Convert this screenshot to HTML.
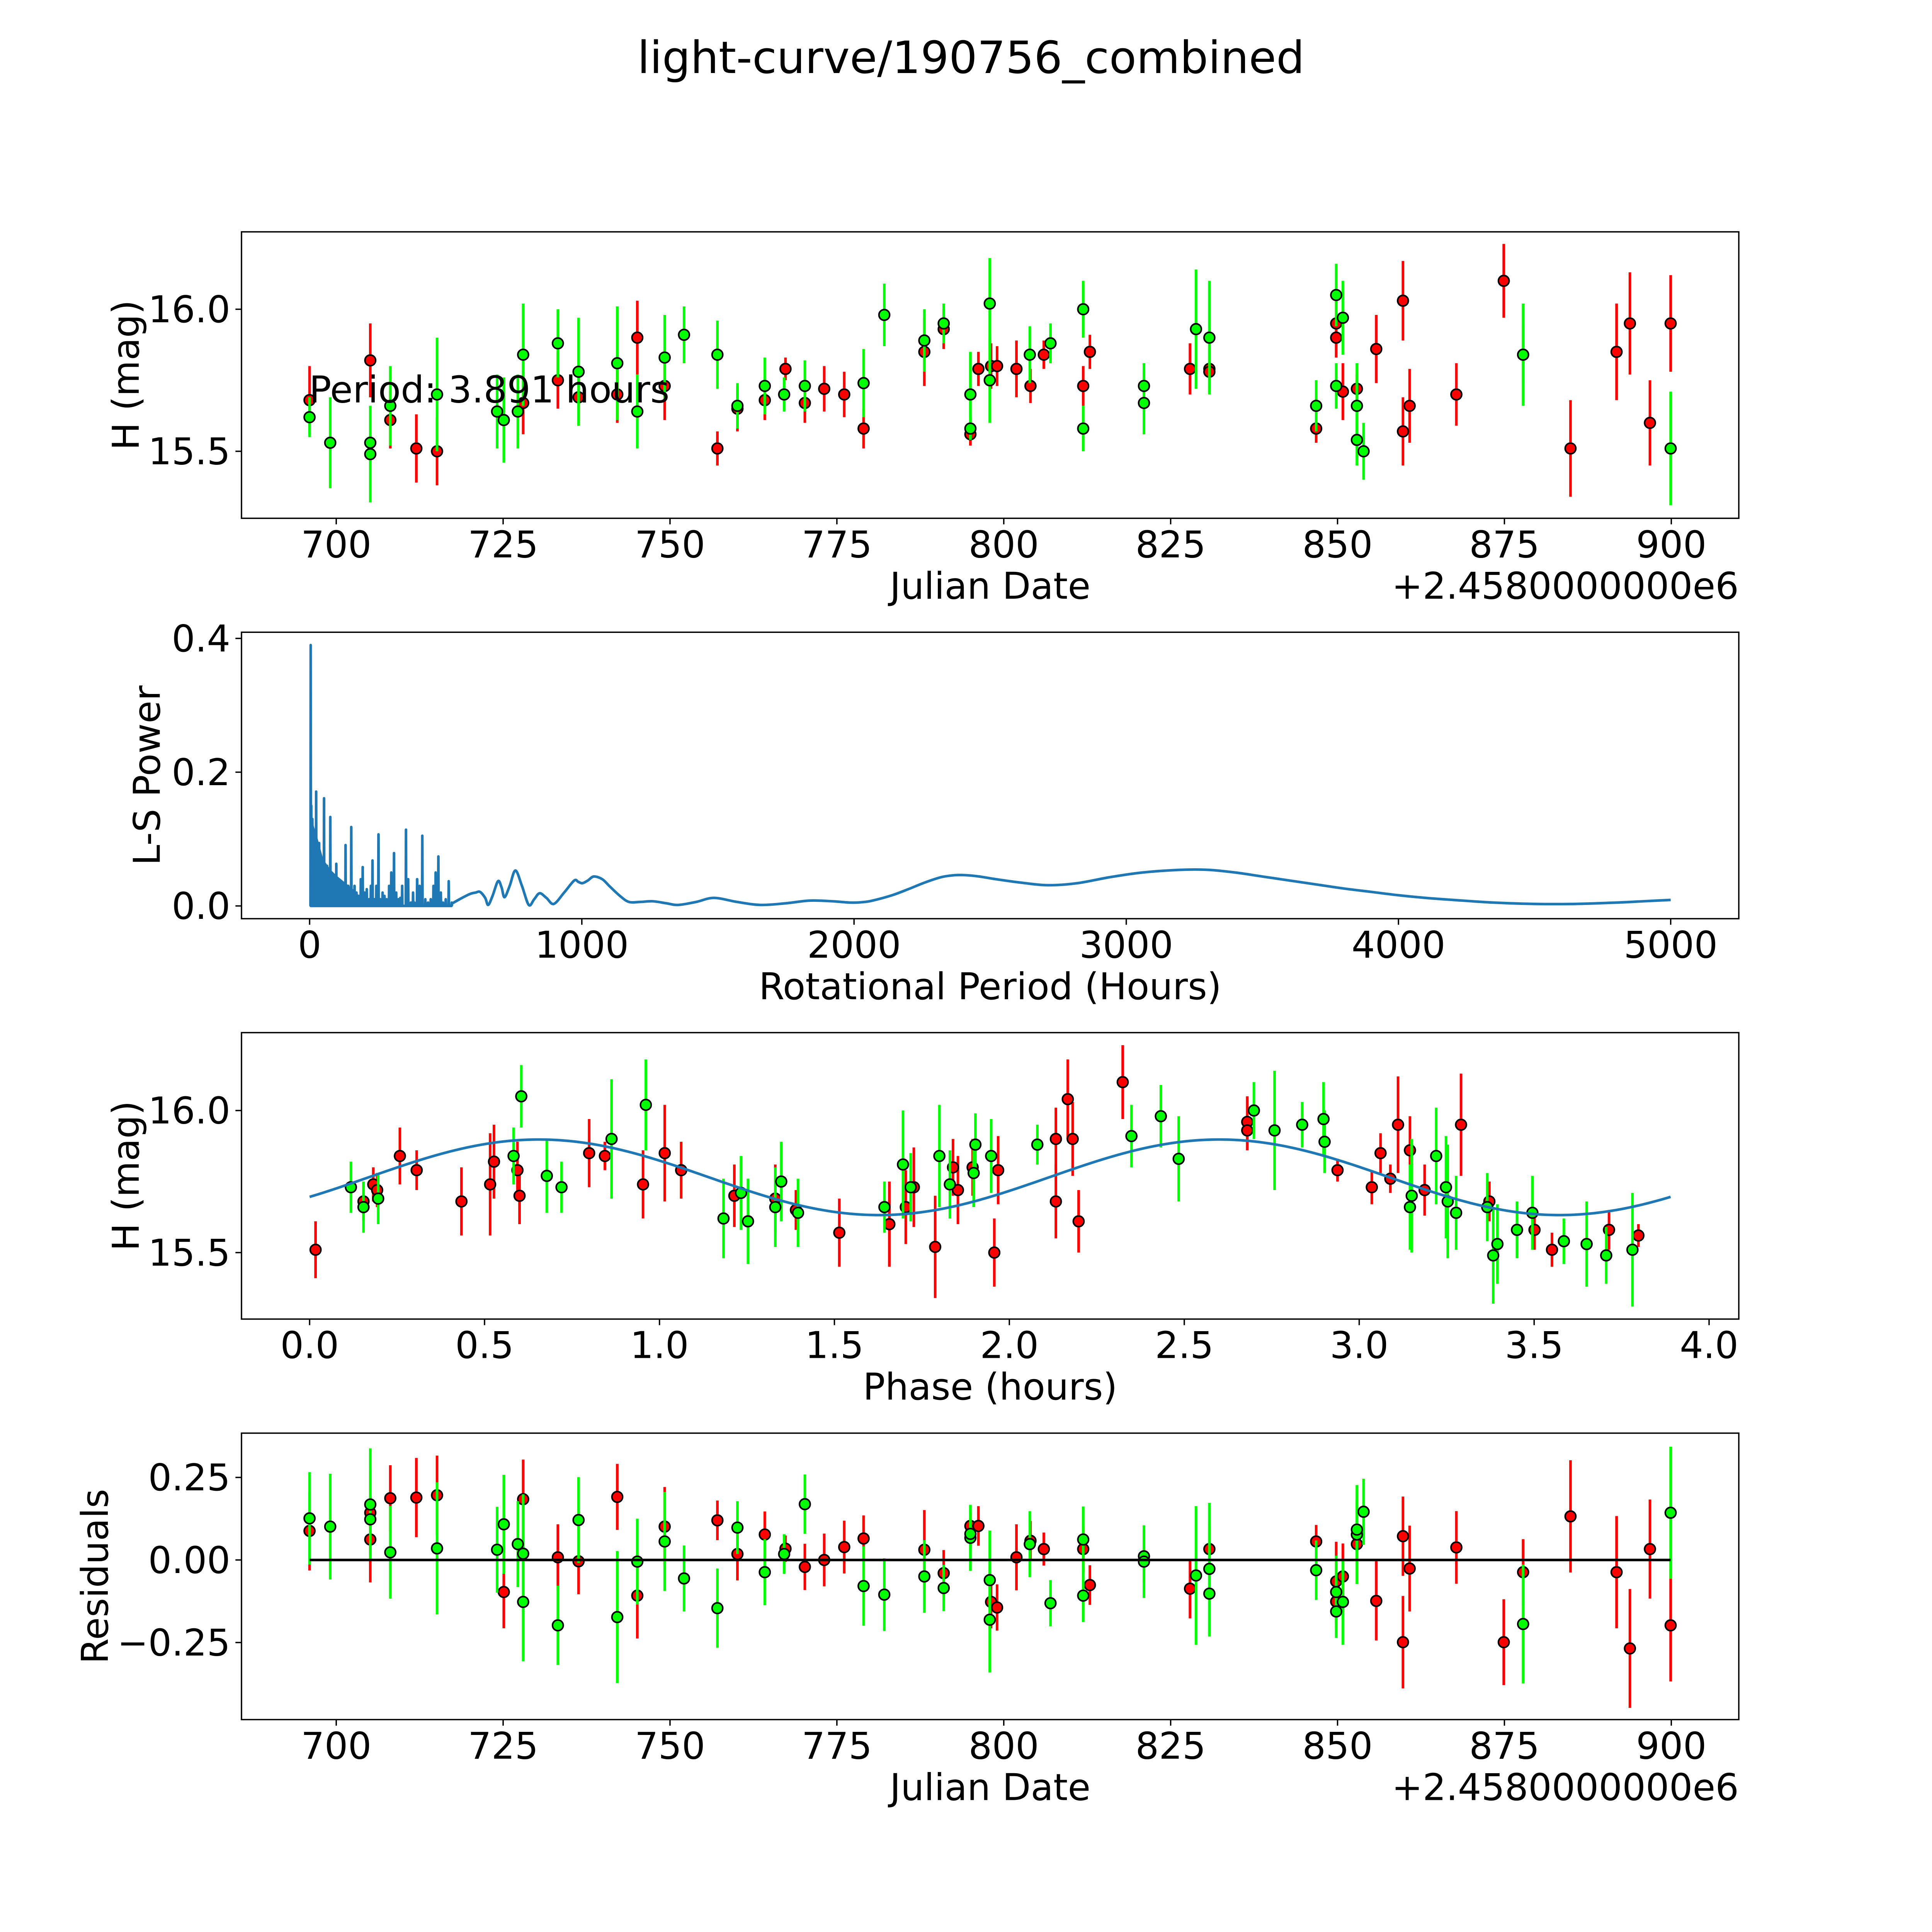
<!DOCTYPE html>
<html><head><meta charset="utf-8"><style>
html,body{margin:0;padding:0;background:#fff;overflow:hidden;width:100vw;height:100vh}
svg{display:block;width:100vw;height:100vh}
text{font-family:"DejaVu Sans","Liberation Sans",sans-serif;fill:#000}
</style></head><body>
<svg id="fig" xmlns="http://www.w3.org/2000/svg" viewBox="0 0 1560 1560" preserveAspectRatio="xMidYMid meet">
<rect x="0" y="0" width="1560" height="1560" fill="#fff"/>
<text x="784" y="59" text-anchor="middle" font-size="36">light-curve/190756_combined</text>
<g id="g1"></g>
<g id="g2"></g>
<g id="g3"></g>
<g id="g4"></g>
</svg>
<script>
// ---- data: light curve [JD-2458000, H mag, err] ----
const redMag = [[696.0,15.68,0.12],[705.1,15.82,0.13],[708.1,15.61,0.1],[712.0,15.51,0.12],[715.1,15.50,0.12],[728.0,15.67,0.11],[733.2,15.75,0.1],[736.3,15.69,0.1],[742.1,15.70,0.1],[745.1,15.90,0.13],[749.2,15.73,0.12],[757.1,15.51,0.06],[760.1,15.65,0.08],[764.2,15.68,0.07],[767.3,15.79,0.04],[770.2,15.67,0.07],[773.1,15.72,0.08],[776.1,15.70,0.08],[779.0,15.58,0.07],[788.1,15.85,0.12],[791.0,15.93,0.07],[795.0,15.56,0.04],[796.2,15.79,0.06],[798.1,15.80,0.08],[799.0,15.80,0.07],[801.9,15.79,0.1],[804.0,15.73,0.06],[806.0,15.84,0.05],[811.9,15.73,0.07],[812.9,15.85,0.06],[827.9,15.79,0.09],[830.8,15.79,0.07],[830.8,15.78,0.07],[846.8,15.58,0.05],[849.8,15.95,0.12],[849.8,15.90,0.07],[850.8,15.71,0.1],[852.9,15.72,0.05],[855.8,15.86,0.12],[859.8,15.57,0.12],[859.8,16.03,0.14],[860.8,15.66,0.13],[867.8,15.70,0.11],[874.9,16.10,0.13],[877.8,15.84,0.1],[884.9,15.51,0.17],[891.8,15.85,0.17],[893.8,15.95,0.18],[896.8,15.60,0.15],[899.9,15.95,0.17]];
const greenMag = [[696.0,15.62,0.07],[699.1,15.53,0.16],[705.1,15.53,0.03],[705.1,15.49,0.17],[708.1,15.66,0.14],[715.1,15.70,0.2],[724.1,15.64,0.13],[725.1,15.61,0.15],[727.2,15.64,0.13],[728.0,15.84,0.18],[733.2,15.88,0.12],[736.3,15.78,0.19],[742.1,15.81,0.2],[745.1,15.64,0.13],[749.2,15.83,0.15],[752.1,15.91,0.1],[757.1,15.84,0.12],[760.1,15.66,0.08],[764.2,15.73,0.1],[767.1,15.70,0.06],[770.2,15.73,0.09],[779.0,15.74,0.12],[782.1,15.98,0.11],[788.1,15.89,0.11],[791.0,15.95,0.07],[795.0,15.70,0.15],[795.0,15.58,0.04],[797.9,15.75,0.15],[797.9,16.02,0.16],[803.9,15.84,0.1],[807.0,15.88,0.07],[811.9,16.00,0.1],[811.9,15.58,0.08],[821.0,15.73,0.08],[821.0,15.67,0.11],[828.8,15.93,0.21],[830.8,15.90,0.2],[846.8,15.66,0.09],[849.8,16.05,0.11],[849.8,15.73,0.08],[850.8,15.97,0.13],[852.9,15.66,0.15],[852.9,15.54,0.09],[853.9,15.50,0.1],[877.8,15.84,0.18],[899.9,15.51,0.2]];
// ---- periodogram [period hours, power] ----
const spikePeriods = [4,5,6,7,8,9,10,11,12,13,14,15,16,17,18,19,20,22,24,26,28,30,33,35,38,41,44,47,50,53,56,60,64,68,72,76,80,85,90,94,98,103,108,113,118,123,128,132,137,142,147,153,158,165,172,180,188,195,202,210,218,225,231,238,245,253,260,268,275,283,292,300,310,318,326,333,340,354,362,372,380,385,395,404,414,425,435,445,455,463,473,482,490,500,511,522];
const spikePowers = [0.39,0.14,0.15,0.1,0.12,0.08,0.13,0.07,0.09,0.1,0.11,0.06,0.08,0.09,0.1,0.05,0.07,0.09,0.171,0.08,0.06,0.09,0.07,0.094,0.05,0.07,0.05,0.06,0.04,0.161,0.05,0.04,0.06,0.03,0.05,0.133,0.03,0.04,0.03,0.04,0.063,0.02,0.03,0.02,0.03,0.02,0.03,0.091,0.02,0.03,0.02,0.118,0.02,0.03,0.02,0.015,0.04,0.058,0.02,0.025,0.01,0.03,0.068,0.01,0.03,0.107,0.01,0.02,0.015,0.01,0.03,0.05,0.079,0.02,0.01,0.012,0.03,0.114,0.04,0.005,0.02,0.005,0.04,0.03,0.105,0.01,0.005,0.01,0.03,0.05,0.074,0.02,0.005,0.01,0.037,0.005];
const densePeriods = [0,15,30,50,75,100,130,160,190,210];
const densePowers = [0.16,0.12,0.1,0.07,0.055,0.045,0.035,0.025,0.012,0.0];
const smoothPeriods = [525,560,590,610,626,645,656,672,692,705,716,735,756,780,805,825,845,870,897,935,972,987,1002,1022,1044,1075,1103,1140,1173,1215,1260,1310,1354,1420,1485,1570,1656,1750,1837,1920,1988,2040,2078,2140,2199,2260,2320,2370,2410,2460,2521,2610,2712,2820,2940,3060,3200,3300,3400,3500,3600,3700,3800,3900,4000,4100,4200,4350,4500,4650,4800,4900,5000];
const smoothPowers = [0.004,0.012,0.018,0.02,0.021,0.012,0.0015,0.015,0.037,0.028,0.013,0.03,0.053,0.03,0.0015,0.01,0.019,0.012,0.003,0.02,0.038,0.036,0.034,0.038,0.044,0.04,0.029,0.015,0.006,0.006,0.007,0.004,0.0015,0.006,0.012,0.006,0.0015,0.004,0.008,0.007,0.005,0.006,0.009,0.016,0.025,0.035,0.043,0.046,0.046,0.044,0.04,0.035,0.031,0.034,0.043,0.05,0.054,0.054,0.05,0.044,0.038,0.032,0.026,0.021,0.016,0.012,0.009,0.005,0.003,0.003,0.005,0.007,0.009];
// ---- phased [phase hours, mag, err] ----
const redPhase = [[0.017,15.51,0.1],[0.154,15.68,0.07],[0.182,15.74,0.06],[0.193,15.72,0.06],[0.258,15.84,0.1],[0.306,15.79,0.07],[0.434,15.68,0.12],[0.516,15.74,0.18],[0.527,15.82,0.13],[0.594,15.79,0.1],[0.6,15.70,0.1],[0.799,15.85,0.12],[0.844,15.84,0.05],[0.953,15.74,0.12],[1.015,15.85,0.17],[1.062,15.79,0.1],[1.214,15.70,0.11],[1.331,15.69,0.12],[1.39,15.65,0.07],[1.514,15.57,0.12],[1.657,15.60,0.15],[1.704,15.66,0.13],[1.727,15.73,0.14],[1.839,15.80,0.1],[1.853,15.72,0.12],[1.788,15.52,0.18],[1.895,15.80,0.1],[1.957,15.50,0.12],[1.968,15.79,0.12],[2.133,15.90,0.11],[2.133,15.68,0.13],[2.167,16.04,0.14],[2.181,15.90,0.13],[2.198,15.61,0.11],[2.324,16.10,0.13],[2.68,15.96,0.09],[2.68,15.93,0.07],[2.938,15.79,0.04],[3.036,15.73,0.06],[3.061,15.85,0.07],[3.089,15.76,0.05],[3.111,15.95,0.17],[3.145,15.86,0.12],[3.187,15.72,0.09],[3.291,15.95,0.18],[3.372,15.68,0.07],[3.501,15.58,0.07],[3.551,15.51,0.06],[3.714,15.58,0.07],[3.798,15.56,0.04]];
const greenPhase = [[0.118,15.73,0.09],[0.154,15.66,0.09],[0.196,15.69,0.09],[0.583,15.84,0.1],[0.605,16.05,0.11],[0.678,15.77,0.13],[0.72,15.73,0.09],[0.863,15.90,0.21],[0.961,16.02,0.16],[1.183,15.62,0.14],[1.233,15.71,0.13],[1.253,15.61,0.15],[1.331,15.66,0.14],[1.348,15.75,0.14],[1.396,15.64,0.12],[1.643,15.66,0.09],[1.696,15.81,0.19],[1.718,15.73,0.12],[1.8,15.84,0.18],[1.83,15.74,0.12],[1.898,15.78,0.12],[1.903,15.88,0.11],[1.948,15.84,0.13],[2.08,15.88,0.07],[2.349,15.91,0.11],[2.433,15.98,0.11],[2.484,15.83,0.15],[2.699,16.00,0.1],[2.758,15.93,0.21],[2.837,15.95,0.08],[2.898,15.97,0.13],[2.901,15.89,0.11],[3.145,15.66,0.15],[3.15,15.70,0.2],[3.22,15.84,0.17],[3.248,15.73,0.18],[3.253,15.68,0.2],[3.277,15.64,0.13],[3.366,15.66,0.12],[3.383,15.49,0.17],[3.395,15.53,0.14],[3.451,15.58,0.1],[3.495,15.64,0.13],[3.585,15.54,0.08],[3.65,15.53,0.15],[3.706,15.49,0.1],[3.781,15.51,0.2]];
// model: [mean, amplitude, period, peakPhase, endPhase]
const modelParams = [15.765, 0.133, 1.945, 0.655, 3.89];
// ---- residuals [JD, residual, err] ----
const redRes = [[696.0,0.088,0.12],[705.1,0.143,0.13],[705.1,0.062,0.13],[708.1,0.187,0.1],[712.0,0.189,0.12],[715.1,0.196,0.12],[725.1,-0.097,0.11],[728.0,0.184,0.12],[733.2,0.008,0.1],[736.3,-0.004,0.1],[742.1,0.191,0.1],[745.1,-0.108,0.13],[749.2,0.101,0.12],[757.1,0.12,0.06],[760.1,0.018,0.08],[764.2,0.077,0.07],[767.3,0.034,0.04],[770.2,-0.021,0.07],[773.1,0.0,0.08],[776.1,0.039,0.08],[779.0,0.065,0.07],[788.1,0.031,0.12],[791.0,-0.04,0.07],[795.0,0.103,0.04],[796.2,0.103,0.06],[798.1,-0.127,0.08],[799.0,-0.144,0.07],[801.9,0.008,0.1],[804.0,0.058,0.06],[806.0,0.033,0.05],[811.9,0.033,0.07],[812.9,-0.076,0.06],[827.9,-0.087,0.09],[830.8,0.033,0.07],[846.8,0.056,0.05],[849.8,-0.065,0.12],[849.8,-0.126,0.07],[850.8,-0.05,0.1],[852.9,0.048,0.05],[855.8,-0.124,0.12],[859.8,0.072,0.12],[859.8,-0.249,0.14],[860.8,-0.026,0.13],[867.8,0.038,0.11],[874.9,-0.249,0.13],[877.8,-0.037,0.1],[884.9,0.132,0.17],[891.8,-0.037,0.17],[893.8,-0.268,0.18],[896.8,0.033,0.15],[899.9,-0.198,0.17]];
const greenRes = [[696.0,0.126,0.14],[699.1,0.101,0.16],[705.1,0.168,0.17],[705.1,0.123,0.03],[708.1,0.023,0.14],[715.1,0.035,0.2],[724.1,0.031,0.13],[725.1,0.108,0.15],[727.2,0.048,0.13],[728.0,0.019,0.18],[728.0,-0.127,0.18],[733.2,-0.198,0.12],[736.3,0.121,0.13],[742.1,-0.173,0.2],[745.1,-0.005,0.13],[749.2,0.056,0.15],[752.1,-0.056,0.1],[757.1,-0.146,0.12],[760.1,0.098,0.08],[764.2,-0.037,0.1],[767.1,0.018,0.06],[770.2,0.169,0.09],[779.0,-0.079,0.12],[782.1,-0.105,0.11],[788.1,-0.05,0.11],[791.0,-0.085,0.07],[795.0,0.067,0.1],[795.0,0.079,0.04],[797.9,-0.061,0.15],[797.9,-0.181,0.16],[803.9,0.048,0.1],[807.0,-0.131,0.07],[811.9,0.062,0.1],[811.9,-0.108,0.08],[821.0,0.011,0.08],[821.0,-0.005,0.11],[828.8,-0.047,0.21],[830.8,-0.027,0.2],[830.8,-0.102,0.13],[846.8,-0.031,0.09],[849.8,-0.097,0.11],[849.8,-0.156,0.08],[850.8,-0.127,0.13],[852.9,0.077,0.15],[852.9,0.092,0.09],[853.9,0.146,0.1],[877.8,-0.194,0.18],[899.9,0.143,0.2]];
// ---- ticks ----
const jdTicks = [700,725,750,775,800,825,850,875,900];
const magTicks = [15.5,16.0];
const periodTicks = [0,1000,2000,3000,4000,5000];
const powerTicks = [0.0,0.2,0.4];
const phaseTicks = [0.0,0.5,1.0,1.5,2.0,2.5,3.0,3.5,4.0];
const resTicks = [-0.25,0.0,0.25];

const NS = "http://www.w3.org/2000/svg";
function mk(parent, tag, attrs, txt){
  const e = document.createElementNS(NS, tag);
  for (const k in attrs) e.setAttribute(k, attrs[k]);
  if (txt !== undefined) e.textContent = txt;
  parent.appendChild(e);
  return e;
}
const L = 195, R = 1404, FS = 29.8;
const panels = [
  {g:'g1', top:187.2, x:v=>271.5+(v-700)*5.39, y:m=>249.7+(16-m)*229.4},
  {g:'g2', top:510.5, x:v=>250+v*0.2198, y:v=>731.5-v*540},
  {g:'g3', top:833.8, x:v=>250+v*282.5, y:m=>896.7+(16-m)*229.4},
  {g:'g4', top:1157.2, x:v=>271.5+(v-700)*5.39, y:v=>1259.6-v*266.6}
];
const H = 231.3;

function frame(p, xt, xfmt, yt, yfmt, xlabel, ylabel, ylx, offset){
  const g = document.getElementById(p.g);
  const bot = p.top + H;
  xt.forEach(v=>{
    const x = p.x(v);
    const t = mk(g,'line',{x1:x,x2:x,y1:bot,y2:bot+4.9,stroke:'#000','stroke-width':1.1});
    
    
    const l = mk(g,'text',{x:x,y:bot+31.5,'text-anchor':'middle','font-size':FS}, xfmt(v));
    
    
  });
  yt.forEach(v=>{
    const y = p.y(v);
    const t = mk(g,'line',{x1:L-4.9,x2:L,y1:y,y2:y,stroke:'#000','stroke-width':1.1});
    
    
    const l = mk(g,'text',{x:L-9,y:y+10.5,'text-anchor':'end','font-size':FS}, yfmt(v));
    
    
  });
  const xl = mk(g,'text',{x:(L+R)/2,y:bot+65,'text-anchor':'middle','font-size':FS}, xlabel);
  
  
  const cy = p.top + H/2;
  const yl = mk(g,'text',{x:ylx,y:cy,'text-anchor':'middle','font-size':FS,transform:`rotate(-90 ${ylx} ${cy})`}, ylabel);
  
  
  if (offset){
    const o = mk(g,'text',{x:R,y:bot+65,'text-anchor':'end','font-size':FS}, offset);
    
    
  }
}
function border(p){
  const g = document.getElementById(p.g);
  const r = mk(g,'rect',{x:L,y:p.top,width:R-L,height:H,fill:'none',stroke:'#000','stroke-width':1.1});
  
  
}
function points(p, data, color, name){
  const g = document.getElementById(p.g);
  data.forEach(d=>{
    const x = p.x(d[0]);
    const e = mk(g,'line',{x1:x,x2:x,y1:p.y(d[1]-d[2]),y2:p.y(d[1]+d[2]),stroke:color,'stroke-width':2.1});
    
    
  });
  data.forEach(d=>{
    const c = mk(g,'circle',{cx:p.x(d[0]),cy:p.y(d[1]),r:4.3,fill:color,stroke:'#000','stroke-width':1.3});
    
    
  });
}
function smoothPath(xs, ys){
  let d = 'M' + xs[0] + ',' + ys[0];
  for (let i=0;i<xs.length-1;i++){
    const x0 = xs[Math.max(i-1,0)], y0 = ys[Math.max(i-1,0)];
    const x1 = xs[i], y1 = ys[i], x2 = xs[i+1], y2 = ys[i+1];
    const x3 = xs[Math.min(i+2,xs.length-1)], y3 = ys[Math.min(i+2,xs.length-1)];
    d += ' C' + (x1+(x2-x0)/6) + ',' + (y1+(y2-y0)/6) + ' ' + (x2-(x3-x1)/6) + ',' + (y2-(y3-y1)/6) + ' ' + x2 + ',' + y2;
  }
  return d;
}
const f1 = v=>v.toFixed(1), f0 = v=>String(v), f2 = v=>(v<0?'\u2212'+(-v).toFixed(2):v.toFixed(2));

// panel 1
frame(panels[0], jdTicks, f0, magTicks, f1, 'Julian Date', 'H (mag)', 112, '+2.4580000000e6');
points(panels[0], redMag, '#ff0000', 'red');
points(panels[0], greenMag, '#00ff00', 'green');
const pt = mk(document.getElementById('g1'),'text',{x:249.6,y:325,'font-size':FS},'Period: 3.891 hours');


border(panels[0]);

// panel 2
frame(panels[1], periodTicks, f0, powerTicks, f1, 'Rotational Period (Hours)', 'L-S Power', 129);
(function(){
  const p = panels[1];
  const g = document.getElementById('g2');
  let fillPts = [p.x(0)+','+p.y(0)];
  densePeriods.forEach((per,i)=>{ fillPts.push(p.x(per)+','+p.y(densePowers[i])); });
  fillPts.push(p.x(densePeriods[densePeriods.length-1])+','+p.y(0));
  const fa = mk(g,'polygon',{points:fillPts.join(' '),fill:'#1f77b4'});
  
  
  let pts = [];
  spikePeriods.forEach((per,i)=>{
    pts.push(p.x(per-0.8)+','+p.y(0));
    pts.push(p.x(per)+','+p.y(spikePowers[i]));
    pts.push(p.x(per+0.8)+','+p.y(0));
  });
  const pl = mk(g,'polyline',{points:pts.join(' '),fill:'none',stroke:'#1f77b4','stroke-width':2.1,'stroke-linejoin':'round'});
  
  
  const sx = smoothPeriods.map(p.x), sy = smoothPowers.map(p.y);
  const sp = mk(g,'path',{d:smoothPath(sx, sy),fill:'none',stroke:'#1f77b4','stroke-width':2.1});
  
  
})();
border(panels[1]);

// panel 3
frame(panels[2], phaseTicks, f1, magTicks, f1, 'Phase (hours)', 'H (mag)', 112);
points(panels[2], redPhase, '#ff0000', 'red-phased');
points(panels[2], greenPhase, '#00ff00', 'green-phased');
(function(){
  const p = panels[2];
  const [mean, amp, per, pk, end] = modelParams;
  let pts = [];
  for (let i=0;i<=300;i++){
    const t = end*i/300;
    pts.push(p.x(t)+','+p.y(mean+amp*Math.cos(2*Math.PI*(t-pk)/per)));
  }
  const pl = mk(document.getElementById('g3'),'polyline',{points:pts.join(' '),fill:'none',stroke:'#1f77b4','stroke-width':2.1});
  
  
})();
border(panels[2]);

// panel 4
frame(panels[3], jdTicks, f0, resTicks, f2, 'Julian Date', 'Residuals', 87, '+2.4580000000e6');
points(panels[3], redRes, '#ff0000', 'red-residual');
points(panels[3], greenRes, '#00ff00', 'green-residual');
(function(){
  const p = panels[3];
  const zl = mk(document.getElementById('g4'),'line',{x1:p.x(696),x2:p.x(899.9),y1:p.y(0),y2:p.y(0),stroke:'#000','stroke-width':2.1});
  
  
})();
border(panels[3]);
</script>
</body></html>
